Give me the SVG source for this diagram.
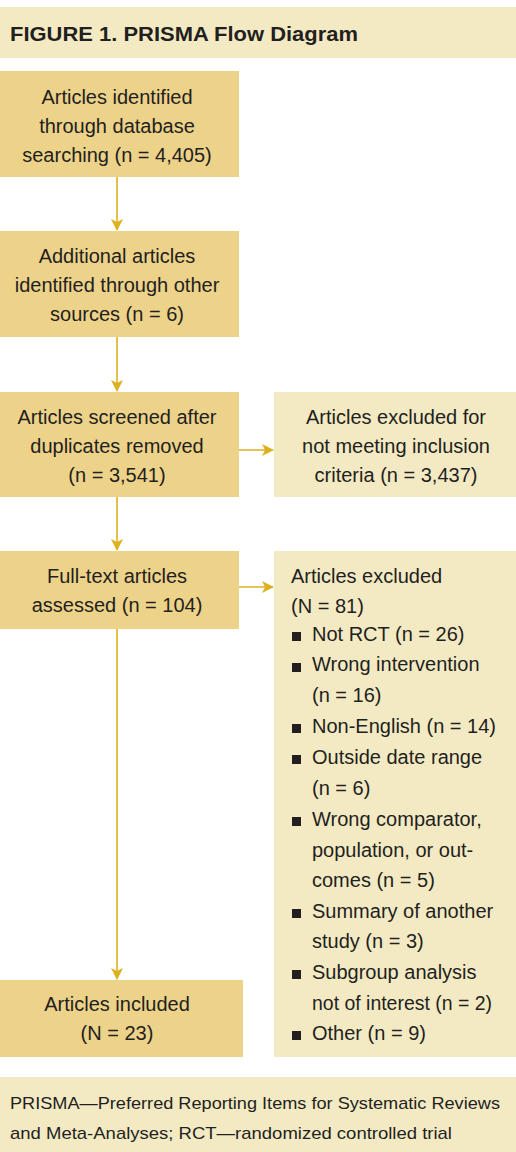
<svg xmlns="http://www.w3.org/2000/svg" width="516" height="1152" viewBox="0 0 516 1152">
<defs>
<style>
.dark{fill:#EDD28A}
.light{fill:#F3EAC4}
text{font-family:"Liberation Sans Narrow","Liberation Sans",sans-serif;font-size:20px;fill:#231F20}
.c{text-anchor:middle}
.title{font-weight:bold;font-size:21px;font-family:"Liberation Sans",sans-serif}
.foot{font-size:17px}
.conn line{stroke:#DDB020;stroke-width:1.6}
.bullet{fill:#231F20}
</style>
<marker id="ah" viewBox="0 0 12 12" refX="11" refY="6" markerWidth="12" markerHeight="12" markerUnits="userSpaceOnUse" orient="auto">
<path d="M0,0 L12,6 L0,12 L3,6 Z" fill="#DDB020"/>
</marker>
</defs>
<rect width="516" height="1152" fill="#fff"/>
<g id="title">
<rect class="light" x="0" y="7" width="516" height="51"/>
<text class="title" x="10" y="41" textLength="348" lengthAdjust="spacingAndGlyphs">FIGURE 1. PRISMA Flow Diagram</text>
</g>
<g id="n1">
<rect class="dark" x="0" y="71" width="239" height="106"/>
<text class="c" x="117" y="104">Articles identified</text>
<text class="c" x="117" y="133">through database</text>
<text class="c" x="117" y="162">searching (n = 4,405)</text>
</g>
<g id="n2">
<rect class="dark" x="0" y="231" width="239" height="106"/>
<text class="c" x="117" y="263">Additional articles</text>
<text class="c" x="117" y="292">identified through other</text>
<text class="c" x="117" y="321">sources (n = 6)</text>
</g>
<g id="n3">
<rect class="dark" x="0" y="392" width="239" height="105"/>
<text class="c" x="117" y="424">Articles screened after</text>
<text class="c" x="117" y="453">duplicates removed</text>
<text class="c" x="117" y="482">(n = 3,541)</text>
</g>
<g id="n3x">
<rect class="light" x="274" y="392" width="242" height="105"/>
<text class="c" x="396" y="424">Articles excluded for</text>
<text class="c" x="396" y="453">not meeting inclusion</text>
<text class="c" x="396" y="482">criteria (n = 3,437)</text>
</g>
<g id="n4">
<rect class="dark" x="0" y="551" width="239" height="78"/>
<text class="c" x="117" y="583">Full-text articles</text>
<text class="c" x="117" y="612">assessed (n = 104)</text>
</g>
<g id="n4x">
<rect class="light" x="274" y="551" width="242" height="506"/>
<text x="291" y="583">Articles excluded</text>
<text x="291" y="613">(N = 81)</text>
<rect class="bullet" x="292" y="632" width="9" height="9"/>
<text x="312" y="641">Not RCT (n = 26)</text>
<rect class="bullet" x="292" y="663" width="9" height="9"/>
<text x="312" y="671">Wrong intervention</text>
<text x="312" y="702">(n = 16)</text>
<rect class="bullet" x="292" y="724" width="9" height="9"/>
<text x="312" y="733">Non-English (n = 14)</text>
<rect class="bullet" x="292" y="755" width="9" height="9"/>
<text x="312" y="764">Outside date range</text>
<text x="312" y="795">(n = 6)</text>
<rect class="bullet" x="292" y="817" width="9" height="9"/>
<text x="312" y="826">Wrong comparator,</text>
<text x="312" y="857">population, or out-</text>
<text x="312" y="887">comes (n = 5)</text>
<rect class="bullet" x="292" y="909" width="9" height="9"/>
<text x="312" y="918">Summary of another</text>
<text x="312" y="948">study (n = 3)</text>
<rect class="bullet" x="292" y="970" width="9" height="9"/>
<text x="312" y="979">Subgroup analysis</text>
<text x="312" y="1010" textLength="180" lengthAdjust="spacingAndGlyphs">not of interest (n = 2)</text>
<rect class="bullet" x="292" y="1031" width="9" height="9"/>
<text x="312" y="1040">Other (n = 9)</text>
</g>
<g id="n5">
<rect class="dark" x="0" y="980" width="243" height="77"/>
<text class="c" x="117" y="1011">Articles included</text>
<text class="c" x="117" y="1040">(N = 23)</text>
</g>
<g id="footer">
<rect class="light" x="0" y="1077" width="516" height="75"/>
<text class="foot" x="10" y="1109" textLength="490" lengthAdjust="spacingAndGlyphs">PRISMA—Preferred Reporting Items for Systematic Reviews</text>
<text class="foot" x="10" y="1139" textLength="442" lengthAdjust="spacingAndGlyphs">and Meta-Analyses; RCT—randomized controlled trial</text>
</g>
<g class="conn" id="connectors">
<line x1="117" y1="177" x2="117" y2="230" marker-end="url(#ah)"/>
<line x1="117" y1="337" x2="117" y2="391" marker-end="url(#ah)"/>
<line x1="117" y1="497" x2="117" y2="550" marker-end="url(#ah)"/>
<line x1="117" y1="629" x2="117" y2="979" marker-end="url(#ah)"/>
<line x1="239" y1="450" x2="273" y2="450" marker-end="url(#ah)"/>
<line x1="239" y1="587" x2="273" y2="587" marker-end="url(#ah)"/>
</g>
</svg>
